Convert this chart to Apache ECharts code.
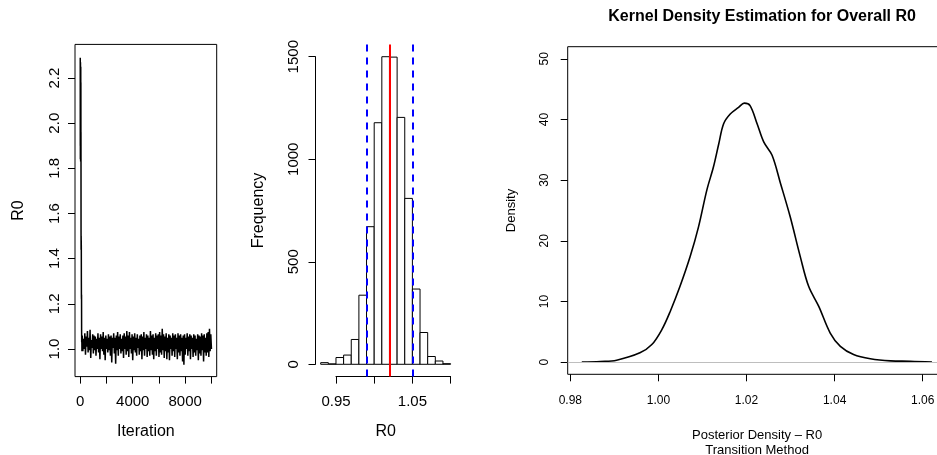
<!DOCTYPE html>
<html>
<head>
<meta charset="utf-8">
<script src="https://cdn.jsdelivr.net/npm/echarts@6/dist/echarts.min.js"></script>
<style>
  html, body { margin: 0; padding: 0; background: #fff; }
  #chart { width: 937px; height: 455px; }
</style>
</head>
<body>
<div id="chart"></div>
<script>
// --- trace plot: burn-in start, then thinned chain (one value per 50 iterations)
const burnIter = [1, 4, 7, 10, 13, 16, 19, 22, 25, 28, 31, 34, 37, 40, 43, 46, 49, 52, 55, 58, 62, 66, 70, 74, 78, 82, 86, 90, 95, 100, 105, 110, 120, 130, 140]
const burnR0 = [2.29, 1.90, 2.24, 1.84, 2.15, 1.95, 2.27, 1.86, 2.08, 2.20, 1.83, 2.12, 1.90, 2.25, 1.85, 2.02, 2.18, 1.88, 1.96, 1.83,
  1.52, 1.44, 1.50, 1.46, 1.48, 1.45, 1.30, 1.23, 1.22, 1.24, 1.08, 1.03, 1.06, 0.99, 1.05]
const chainStart = 150
const chainStep = 50
const chainR0 = [
  1.06, 0.99, 1.045, 1.0, 1.07, 0.975, 1.055, 1.01, 1.08, 0.985,
  1.05, 0.995, 1.085, 0.96, 1.04, 1.005, 1.065, 0.98, 1.06, 0.995,
  1.055, 0.97, 1.045, 1.0, 1.07, 0.985, 1.05, 0.955, 1.065, 1.0,
  1.055, 0.99, 1.075, 0.975, 1.05, 0.95, 1.06, 1.0, 1.045, 0.985,
  1.065, 0.995, 1.055, 0.97, 1.06, 0.94, 1.05, 1.005, 1.07, 0.98,
  1.05, 0.935, 1.06, 0.995, 1.075, 0.97, 1.055, 1.0, 1.065, 0.98,
  1.045, 0.99, 1.06, 0.96, 1.07, 1.0, 1.055, 0.975, 1.08, 0.99,
  1.06, 0.965, 1.075, 1.0, 1.05, 0.98, 1.065, 0.95, 1.055, 0.995,
  1.07, 0.985, 1.05, 0.97, 1.065, 1.005, 1.045, 0.975, 1.06, 0.99,
  1.065, 0.955, 1.055, 0.995, 1.075, 0.97, 1.05, 1.0, 1.065, 0.965,
  1.06, 0.99, 1.05, 0.97, 1.08, 0.995, 1.06, 0.975, 1.065, 0.955,
  1.05, 0.99, 1.07, 0.97, 1.06, 1.0, 1.065, 0.965, 1.075, 0.985,
  1.06, 0.975, 1.09, 0.995, 1.065, 0.96, 1.055, 0.99, 1.07, 0.955,
  1.05, 0.985, 1.065, 0.95, 1.06, 1.0, 1.05, 0.97, 1.07, 0.99,
  1.06, 0.965, 1.065, 1.0, 1.05, 0.955, 1.07, 0.985, 1.06, 0.97,
  1.065, 0.99, 1.05, 0.945, 1.06, 0.93, 1.065, 0.975, 1.05, 1.0,
  1.07, 0.97, 1.055, 0.99, 1.065, 0.955, 1.06, 1.0, 1.05, 0.965,
  1.065, 0.985, 1.06, 0.97, 1.045, 0.995, 1.065, 0.95, 1.06, 0.98,
  1.055, 0.97, 1.07, 0.995, 1.06, 0.945, 1.065, 0.985, 1.05, 0.97,
  1.07, 0.985, 1.075, 0.965, 1.09, 0.99, 1.065, 1.0
]

// --- histogram of R0
const binStart = [0.93, 0.94, 0.95, 0.96, 0.97, 0.98, 0.99, 1.00, 1.01, 1.02, 1.03, 1.04, 1.05, 1.06, 1.07, 1.08, 1.09]
const binWidth = 0.01
const binCount = [8, 2, 33, 45, 121, 337, 671, 1178, 1500, 1498, 1204, 809, 367, 155, 38, 16, 3]
const meanR0 = 1.0207
const ciLow = 0.9867
const ciHigh = 1.0538

// --- kernel density
const densX = [0.9826, 0.9868, 0.9905, 0.9958, 0.9985, 1.0008, 1.0027, 1.0049, 1.0072, 1.0091, 1.0110, 1.0125, 1.0137, 1.0148, 1.0163, 1.0182, 1.0195,
  1.0208, 1.0224, 1.0239, 1.0258, 1.0277, 1.0299, 1.0322, 1.0341, 1.0364, 1.0390, 1.0413, 1.0443, 1.0481, 1.0527, 1.0572, 1.0621]
const densY = [0, 0.12, 0.33, 1.54, 2.9, 5.4, 8.4, 12.5, 17.4, 22.3, 28.4, 32.2, 36.0, 39.3, 40.9, 42.0, 42.7,
  42.3, 39.3, 36.3, 34.1, 29.5, 24.0, 17.4, 12.5, 9.2, 4.8, 2.6, 1.26, 0.56, 0.22, 0.16, 0.02]

const traceTicks = [0, 2000, 4000, 6000, 8000, 10000]
const traceLabels = [0, 4000, 8000]
const traceYTicks = [1.0, 1.2, 1.4, 1.6, 1.8, 2.0, 2.2]
const histXTicks = [0.95, 1.00, 1.05, 1.10]
const histXLabels = [0.95, 1.05]
const densXTicks = [0.98, 1.00, 1.02, 1.04, 1.06]
const densYTicks = [0, 10, 20, 30, 40, 50]

// plot regions (R's usr ranges, 4% padding)
const g1 = { left: 75, top: 44.4, width: 141.7, height: 332.2 }
const g2 = { left: 315.5, top: 44.4, width: 140.3, height: 332.2 }
const g3 = { left: 567.7, top: 46.7, width: 378.8, height: 327.6 }
const r1x = [-399, 10400], r1y = [0.8777, 2.349]
const r2x = [0.9232, 1.1068], r2y = [-60, 1560]
const r3x = [0.9794, 1.0654], r3y = [-2, 52]

// axis strips for the histogram (R draws axis lines only over the tick range)
const px2 = v => g2.left + (v - r2x[0]) / (r2x[1] - r2x[0]) * g2.width
const py2 = v => g2.top + (r2y[1] - v) / (r2y[1] - r2y[0]) * g2.height
const gHx = { left: px2(0.95), width: px2(1.10) - px2(0.95), top: g2.top + g2.height - 1, height: 1 }
const gHy = { left: g2.left, width: 1, top: py2(1500), height: py2(0) - py2(1500) }

const traceData = burnIter.map((it, i) => [it, burnR0[i]])
  .concat(chainR0.map((v, i) => [chainStart + i * chainStep, v]))
const histData = binStart.map((b, i) => [b, b + binWidth, binCount[i]])
const densData = densX.map((x, i) => [x, densY[i]])

const FONT = 'Liberation Sans, Arial, Helvetica, sans-serif'
const black = '#000'
const plain = v => String(v)

function hidden(gridIndex, range) {
  return { gridIndex, type: 'value', min: range[0], max: range[1], show: false }
}
function box(g, framed) {
  return Object.assign({ outerBoundsMode: 'none', containLabel: false, show: !!framed, borderColor: black, borderWidth: 1 }, g)
}

const chart = echarts.init(document.getElementById('chart'))
chart.setOption({
  animation: false,
  backgroundColor: '#fff',
  textStyle: { fontFamily: FONT, color: black },
  title: {
    text: 'Kernel Density Estimation for Overall R0',
    left: g3.left + g3.width / 2,
    textAlign: 'center',
    top: 4,
    textStyle: { fontFamily: FONT, fontSize: 16, fontWeight: 'bold', color: black }
  },
  grid: [box(g1, true), box(g2), box(gHx), box(gHy), box(g3, true)],
  xAxis: [
    {
      gridIndex: 0, type: 'value', min: r1x[0], max: r1x[1],
      axisLine: { show: false, onZero: false },
      axisTick: { show: true, length: 7, customValues: traceTicks, lineStyle: { color: black } },
      axisLabel: { customValues: traceLabels, fontSize: 15, color: black, margin: 18, formatter: plain },
      splitLine: { show: false },
      name: 'Iteration', nameLocation: 'middle', nameGap: 47,
      nameTextStyle: { fontSize: 16, color: black }
    },
    {
      gridIndex: 1, type: 'value', min: r2x[0], max: r2x[1],
      axisLine: { show: false, onZero: false }, axisTick: { show: false }, axisLabel: { show: false },
      splitLine: { show: false },
      name: 'R0', nameLocation: 'middle', nameGap: 47,
      nameTextStyle: { fontSize: 16, color: black }
    },
    {
      gridIndex: 2, type: 'value', min: 0.95, max: 1.10,
      axisLine: { show: true, onZero: false, lineStyle: { color: black } },
      axisTick: { show: true, length: 7, customValues: histXTicks, lineStyle: { color: black } },
      axisLabel: { customValues: histXLabels, fontSize: 15, color: black, margin: 18, formatter: v => v.toFixed(2) },
      splitLine: { show: false }
    },
    hidden(3, [0, 1]),
    {
      gridIndex: 4, type: 'value', min: r3x[0], max: r3x[1],
      axisLine: { show: false, onZero: false },
      axisTick: { show: true, length: 7, customValues: densXTicks, lineStyle: { color: black } },
      axisLabel: { customValues: densXTicks, fontSize: 12, color: black, margin: 20, formatter: v => v.toFixed(2) },
      splitLine: { show: false },
      name: 'Posterior Density \u2013 R0\nTransition Method', nameLocation: 'middle', nameGap: 54,
      nameTextStyle: { fontSize: 13, color: black, lineHeight: 15 }
    }
  ],
  yAxis: [
    {
      gridIndex: 0, type: 'value', min: r1y[0], max: r1y[1],
      axisLine: { show: false, onZero: false },
      axisTick: { show: true, length: 7, customValues: traceYTicks, lineStyle: { color: black } },
      axisLabel: { customValues: traceYTicks, rotate: 90, fontSize: 15, color: black, margin: 13, formatter: v => v.toFixed(1) },
      splitLine: { show: false },
      name: 'R0', nameLocation: 'middle', nameGap: 48,
      nameTextStyle: { fontSize: 16, color: black }
    },
    {
      gridIndex: 1, type: 'value', min: r2y[0], max: r2y[1],
      axisLine: { show: false, onZero: false }, axisTick: { show: false }, axisLabel: { show: false },
      splitLine: { show: false },
      name: 'Frequency', nameLocation: 'middle', nameGap: 49,
      nameTextStyle: { fontSize: 16, color: black }
    },
    hidden(2, [0, 1]),
    {
      gridIndex: 3, type: 'value', min: 0, max: 1500, interval: 500,
      axisLine: { show: true, onZero: false, lineStyle: { color: black } },
      axisTick: { show: true, length: 7, lineStyle: { color: black } },
      axisLabel: { rotate: 90, fontSize: 15, color: black, margin: 14, formatter: plain },
      splitLine: { show: false }
    },
    {
      gridIndex: 4, type: 'value', min: r3y[0], max: r3y[1],
      axisLine: { show: false, onZero: false },
      axisTick: { show: true, length: 7, customValues: densYTicks, lineStyle: { color: black } },
      axisLabel: { customValues: densYTicks, rotate: 90, fontSize: 12, color: black, margin: 17, formatter: plain },
      splitLine: { show: false },
      name: 'Density', nameLocation: 'middle', nameGap: 50,
      nameTextStyle: { fontSize: 13, color: black }
    }
  ],
  series: [
    {
      type: 'line', xAxisIndex: 0, yAxisIndex: 0,
      data: traceData, showSymbol: false, symbol: 'none',
      lineStyle: { color: black, width: 1.5 }
    },
    {
      type: 'custom', xAxisIndex: 1, yAxisIndex: 1,
      data: histData,
      encode: { x: [0, 1], y: 2 },
      renderItem: function (params, api) {
        const p0 = api.coord([api.value(0), api.value(2)])
        const p1 = api.coord([api.value(1), 0])
        return {
          type: 'rect',
          shape: { x: p0[0], y: p0[1], width: p1[0] - p0[0], height: p1[1] - p0[1] },
          style: { fill: '#fff', stroke: black, lineWidth: 1 }
        }
      }
    },
    {
      type: 'line', xAxisIndex: 1, yAxisIndex: 1, data: [],
      markLine: {
        silent: true, symbol: ['none', 'none'], label: { show: false },
        data: [
          { xAxis: meanR0, lineStyle: { color: '#ff0000', width: 2, type: 'solid' } },
          { xAxis: ciLow, lineStyle: { color: '#0000ff', width: 2, type: [7, 6] } },
          { xAxis: ciHigh, lineStyle: { color: '#0000ff', width: 2, type: [7, 6] } }
        ]
      }
    },
    {
      type: 'line', xAxisIndex: 4, yAxisIndex: 4,
      data: densData, showSymbol: false, symbol: 'none',
      smooth: 0.35,
      lineStyle: { color: black, width: 1.6 },
      z: 3,
      markLine: {
        silent: true, symbol: ['none', 'none'], label: { show: false },
        lineStyle: { color: '#bebebe', width: 1, type: 'solid' },
        data: [{ yAxis: 0 }]
      }
    }
  ]
})
</script>
</body>
</html>
